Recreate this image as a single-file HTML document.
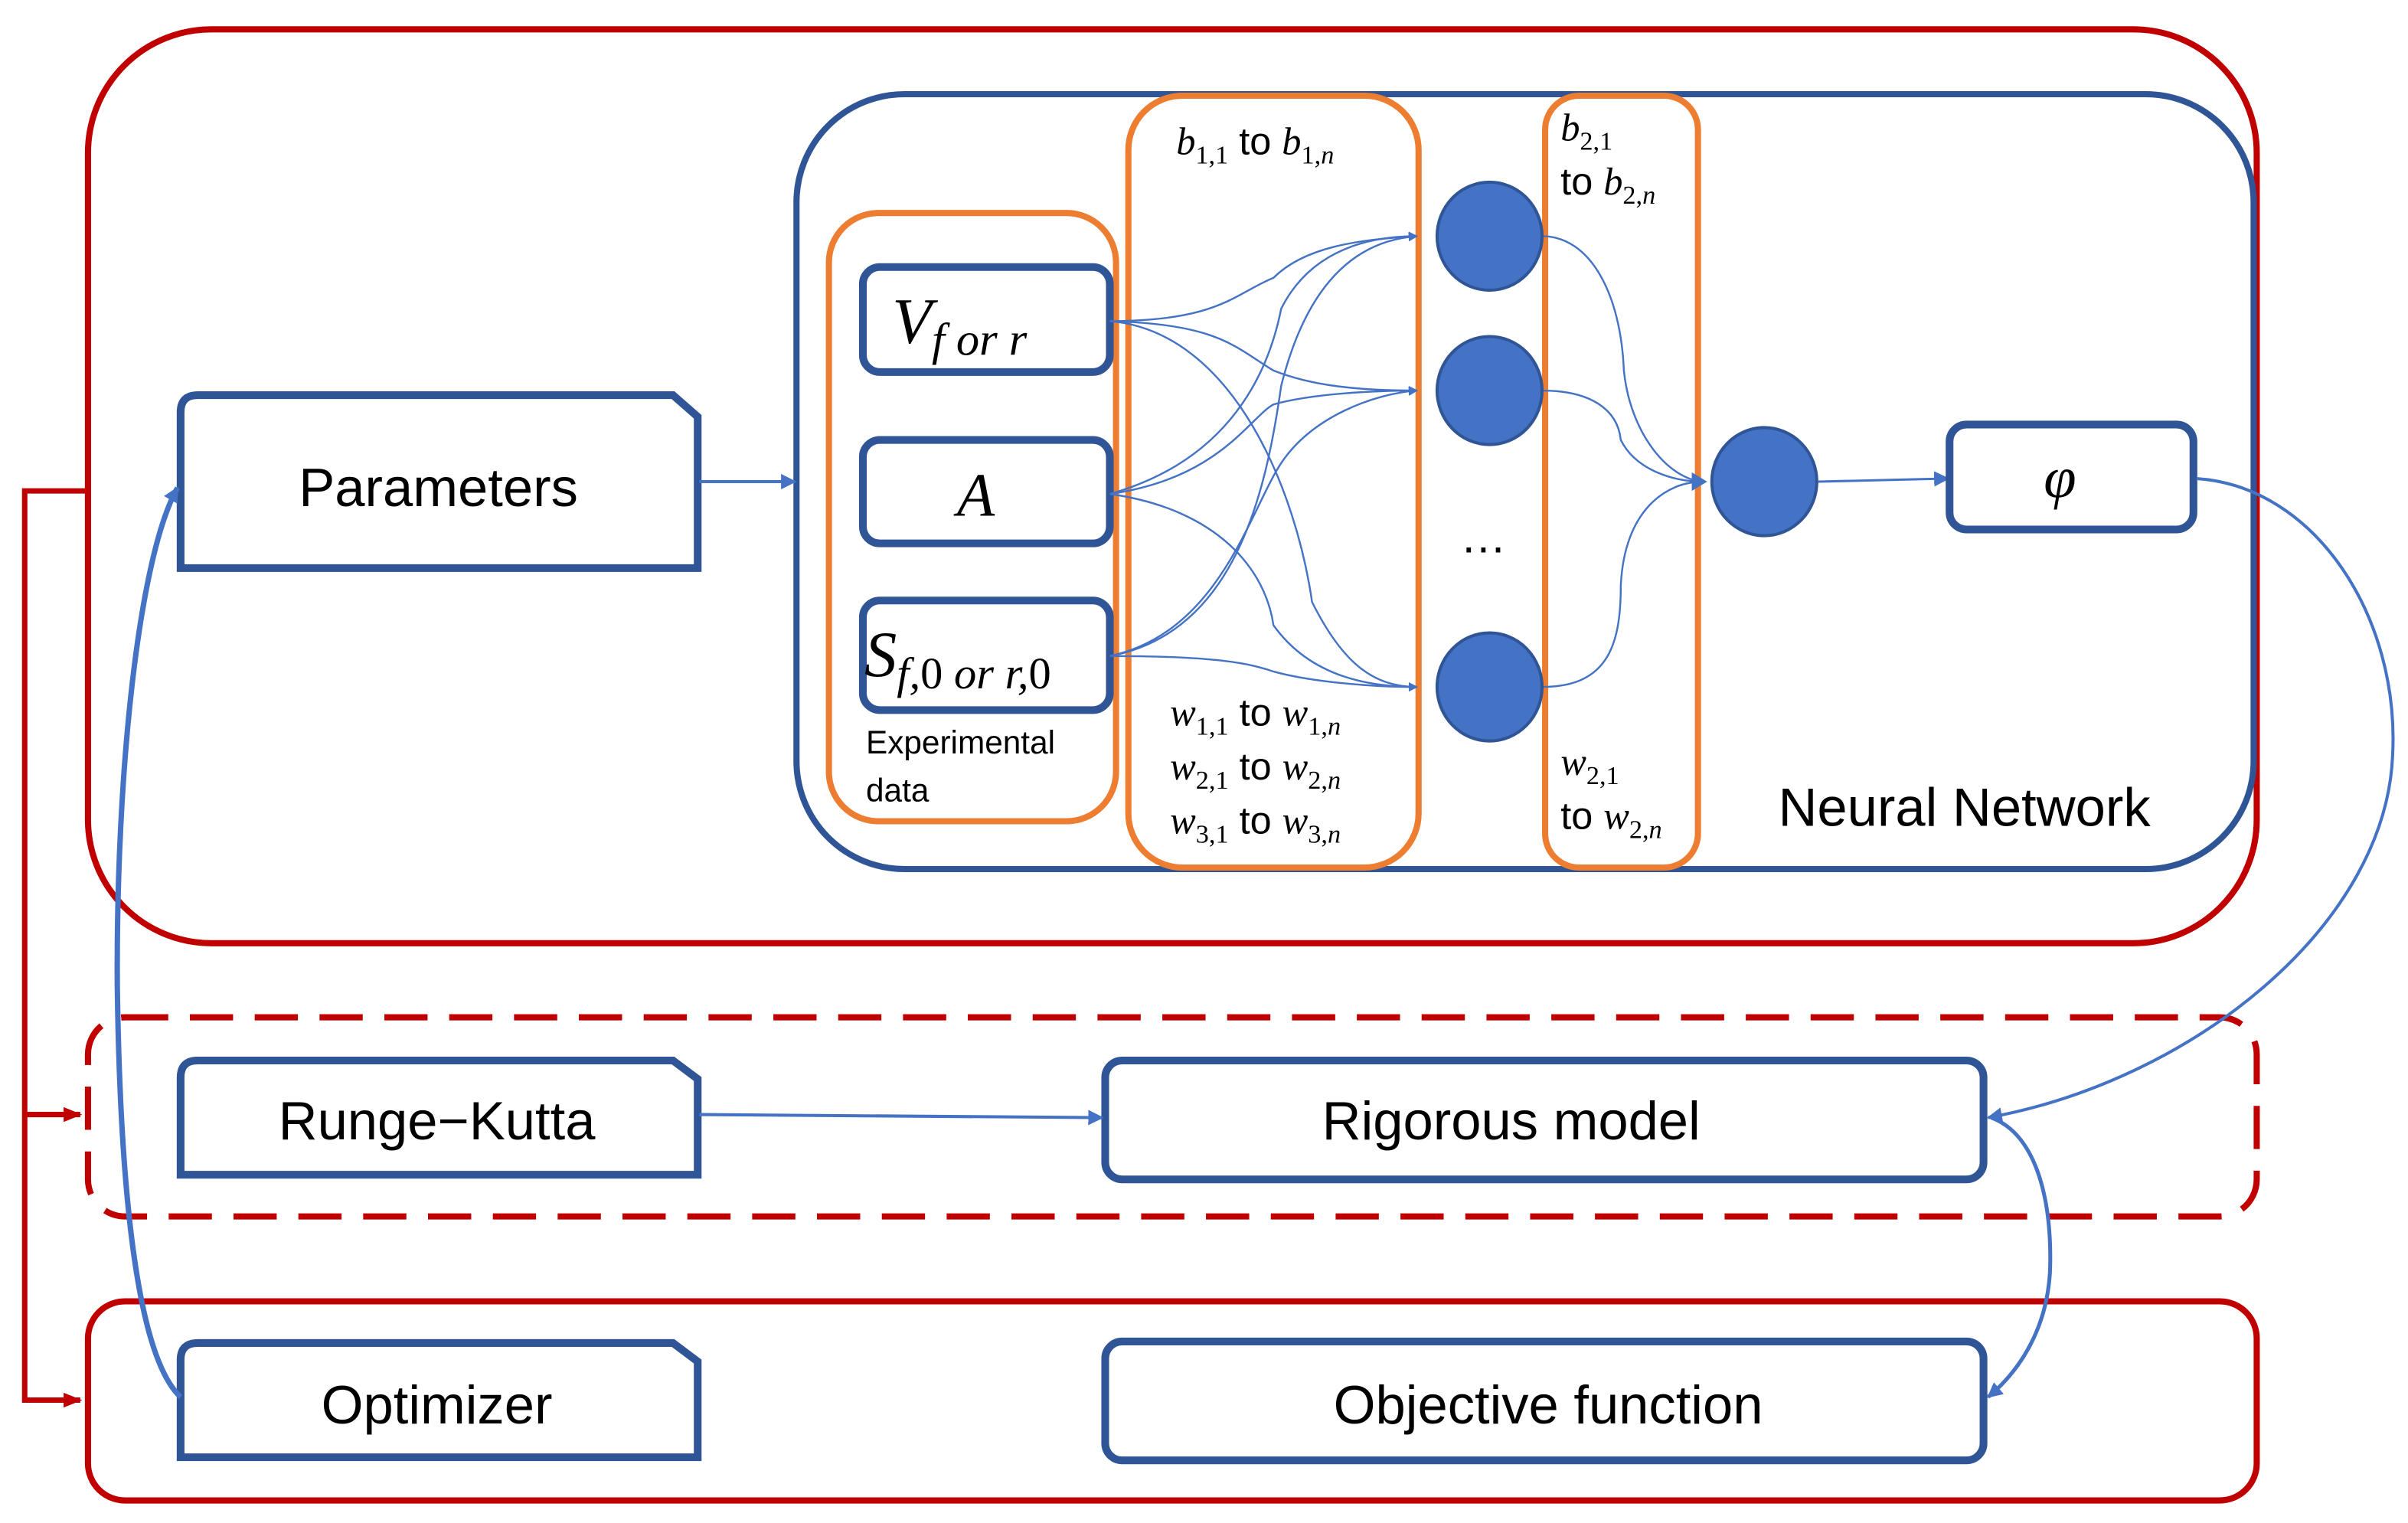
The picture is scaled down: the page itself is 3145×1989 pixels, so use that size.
<!DOCTYPE html>
<html><head><meta charset="utf-8"><style>
html,body{margin:0;padding:0;background:#fff;}
svg{display:block;}
text{font-family:"Liberation Sans",sans-serif;fill:#000;}
.m{font-family:"Liberation Serif",serif;font-style:italic;}
.u{font-style:normal;}
</style></head><body>
<svg width="3145" height="1989" viewBox="0 0 1560 986.6" preserveAspectRatio="none" xmlns="http://www.w3.org/2000/svg">
<defs>
<marker id="ab" viewBox="0 0 10 10" refX="9" refY="5" markerWidth="6" markerHeight="6" orient="auto" markerUnits="userSpaceOnUse"><path d="M0,0 L10,5 L0,10 z" fill="#4472C4"/></marker>
<marker id="ab2" viewBox="0 0 10 10" refX="9" refY="5" markerWidth="10" markerHeight="10" orient="auto" markerUnits="userSpaceOnUse"><path d="M0,0 L10,5 L0,10 z" fill="#4472C4"/></marker>
<marker id="ar" viewBox="0 0 10 10" refX="9" refY="5" markerWidth="12" markerHeight="12" orient="auto" markerUnits="userSpaceOnUse"><path d="M0,1 L10,5 L0,9 z" fill="#C00000"/></marker>
</defs>
<polyline points="57,318 16,318 16,907 52,907" fill="none" stroke="#C00000" stroke-width="3.5" marker-end="url(#ar)"/>
<polyline points="16,722 52,722" fill="none" stroke="#C00000" stroke-width="3.5" marker-end="url(#ar)"/>
<rect x="57" y="19" width="1405" height="592" rx="80" fill="none" stroke="#C00000" stroke-width="4"/>
<rect x="516" y="61" width="944" height="502" rx="70" fill="none" stroke="#2F5597" stroke-width="4"/>
<rect x="57" y="659" width="1405" height="129" rx="24" fill="none" stroke="#C00000" stroke-width="4" stroke-dasharray="28,14"/>
<rect x="57" y="843" width="1405" height="129" rx="24" fill="none" stroke="#C00000" stroke-width="4"/>
<rect x="537" y="138" width="186" height="394" rx="32" fill="none" stroke="#ED7D31" stroke-width="4"/>
<rect x="731" y="62" width="188" height="500" rx="35" fill="none" stroke="#ED7D31" stroke-width="4"/>
<rect x="1001" y="62" width="99" height="500" rx="22" fill="none" stroke="#ED7D31" stroke-width="4"/>
<rect x="559" y="173" width="160" height="68" rx="11" fill="#fff" stroke="#2F5597" stroke-width="5"/>
<rect x="559" y="285" width="160" height="67" rx="11" fill="#fff" stroke="#2F5597" stroke-width="5"/>
<rect x="559" y="389" width="160" height="71" rx="11" fill="#fff" stroke="#2F5597" stroke-width="5"/>
<text class="m" x="578" y="222" font-size="42">V<tspan font-size="30" dy="8">f or r</tspan></text>
<text class="m" x="620" y="334" font-size="40">A</text>
<text class="m" x="560" y="438" font-size="42">S<tspan font-size="29" dy="8">f,<tspan class="u">0</tspan> or r,<tspan class="u">0</tspan></tspan></text>
<text x="561" y="488" font-size="21">Experimental</text>
<text x="561" y="519" font-size="21">data</text>
<g fill="none" stroke="#4472C4" stroke-width="1.2" marker-end="url(#ab)">
<path d="M719,208 C790,208 800,190 825,180 C845,160 880,155 918,153"/>
<path d="M719,208 C790,210 800,225 825,240 C850,250 880,253 918,253"/>
<path d="M719,208 C800,215 840,320 850,390 C870,430 890,445 918,445"/>
<path d="M719,320 C790,300 820,250 830,200 C850,160 890,153 918,153"/>
<path d="M719,320 C790,310 810,270 825,262 C850,255 890,253 918,253"/>
<path d="M719,320 C790,330 820,370 825,405 C850,440 890,445 918,445"/>
<path d="M719,425 C800,410 820,320 830,250 C850,170 890,155 918,153"/>
<path d="M719,425 C790,410 810,330 830,300 C850,270 890,255 918,253"/>
<path d="M719,425 C790,425 810,430 825,435 C850,442 890,445 918,445"/>
</g>
<g fill="none" stroke="#4472C4" stroke-width="1.2">
<path d="M999,153 C1030,153 1050,190 1052,240 C1056,280 1080,310 1103,312"/>
<path d="M999,253 C1030,253 1048,265 1050,285 C1060,305 1085,312 1103,312"/>
<path d="M999,445 C1040,445 1050,420 1050,380 C1052,330 1080,312 1103,312"/>
</g>
<path d="M1096,306 L1106,312 L1096,318 z" fill="#4472C4"/>
<g fill="#4472C4" stroke="#2F5597" stroke-width="2">
<ellipse cx="965" cy="153" rx="34" ry="35"/>
<ellipse cx="965" cy="253" rx="34" ry="35"/>
<ellipse cx="965" cy="445" rx="34" ry="35"/>
<ellipse cx="1143" cy="312" rx="34" ry="35"/>
</g>
<text x="946" y="358" font-size="30">…</text>
<text class="m" x="762" y="100" font-size="25">b<tspan class="u" font-size="17" dy="6">1,1</tspan><tspan dy="-6" class="u" font-family="Liberation Sans"> to </tspan>b<tspan font-size="17" dy="6"><tspan class="u">1,</tspan>n</tspan></text>
<text class="m" x="758" y="470" font-size="25">w<tspan class="u" font-size="17" dy="6">1,1</tspan><tspan dy="-6" class="u" font-family="Liberation Sans"> to </tspan>w<tspan font-size="17" dy="6"><tspan class="u">1,</tspan>n</tspan></text>
<text class="m" x="758" y="505" font-size="25">w<tspan class="u" font-size="17" dy="6">2,1</tspan><tspan dy="-6" class="u" font-family="Liberation Sans"> to </tspan>w<tspan font-size="17" dy="6"><tspan class="u">2,</tspan>n</tspan></text>
<text class="m" x="758" y="540" font-size="25">w<tspan class="u" font-size="17" dy="6">3,1</tspan><tspan dy="-6" class="u" font-family="Liberation Sans"> to </tspan>w<tspan font-size="17" dy="6"><tspan class="u">3,</tspan>n</tspan></text>
<text class="m" x="1011" y="91" font-size="25">b<tspan class="u" font-size="17" dy="6">2,1</tspan></text>
<text class="m" x="1011" y="126" font-size="25"><tspan class="u" font-family="Liberation Sans">to </tspan>b<tspan font-size="17" dy="6"><tspan class="u">2,</tspan>n</tspan></text>
<text class="m" x="1011" y="502" font-size="25">w<tspan class="u" font-size="17" dy="6">2,1</tspan></text>
<text class="m" x="1011" y="537" font-size="25"><tspan class="u" font-family="Liberation Sans">to </tspan>w<tspan font-size="17" dy="6"><tspan class="u">2,</tspan>n</tspan></text>
<text x="1152" y="535" font-size="35">Neural Network</text>
<line x1="1178" y1="312" x2="1262" y2="310" stroke="#4472C4" stroke-width="1.5" marker-end="url(#ab2)"/>
<rect x="1263" y="275" width="158" height="68" rx="11" fill="#fff" stroke="#2F5597" stroke-width="5"/>
<text class="m" x="1324" y="322" font-size="38">φ</text>
<g fill="#fff" stroke="#2F5597" stroke-width="5">
<path d="M128,256 L436,256 L452,270 L452,368 L117,368 L117,267 Q117,256 128,256 z"/>
<path d="M128,687 L436,687 L452,699 L452,761 L117,761 L117,698 Q117,687 128,687 z"/>
<path d="M128,870 L436,870 L452,882 L452,944 L117,944 L117,881 Q117,870 128,870 z"/>
</g>
<text x="284" y="328" font-size="35" text-anchor="middle">Parameters</text>
<text x="283" y="738" font-size="35" text-anchor="middle">Runge−Kutta</text>
<text x="283" y="922" font-size="35" text-anchor="middle">Optimizer</text>
<rect x="716" y="687" width="569" height="77" rx="11" fill="#fff" stroke="#2F5597" stroke-width="5"/>
<rect x="716" y="869" width="569" height="77" rx="11" fill="#fff" stroke="#2F5597" stroke-width="5"/>
<text x="979" y="738" font-size="35" text-anchor="middle">Rigorous model</text>
<text x="1003" y="922" font-size="35" text-anchor="middle">Objective function</text>
<line x1="453" y1="312" x2="515" y2="312" stroke="#4472C4" stroke-width="2" marker-end="url(#ab2)"/>
<line x1="453" y1="722" x2="714" y2="724" stroke="#4472C4" stroke-width="2" marker-end="url(#ab2)"/>
<path d="M1423,310 C1500,315 1555,400 1550,490 C1545,600 1420,700 1288,724" fill="none" stroke="#4472C4" stroke-width="2" marker-end="url(#ab2)"/>
<path d="M1290,724 C1320,735 1330,780 1328,825 C1325,870 1300,895 1288,905" fill="none" stroke="#4472C4" stroke-width="2.5" marker-end="url(#ab2)"/>
<path d="M117,905 C90,880 78,780 76,640 C75,500 90,360 115,316" fill="none" stroke="#4472C4" stroke-width="3.5" marker-end="url(#ab2)"/>
</svg>
</body></html>
